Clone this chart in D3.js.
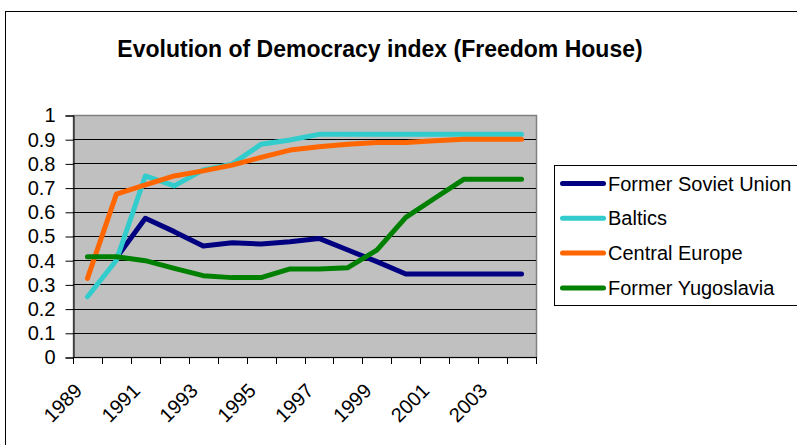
<!DOCTYPE html>
<html>
  <head>
    <meta charset="utf-8">
    <script src="https://d3js.org/d3.v7.min.js"></script>
    <style>
      body {
        margin: 0;
        background: white;
        font-family: "Liberation Sans", Arial, sans-serif;
      }
    </style>
  </head>
  <body>
    <script>
      // data
      var years = [1989, 1990, 1991, 1992, 1993, 1994, 1995, 1996, 1997, 1998, 1999, 2000, 2001, 2002, 2003, 2004]
      var yearLabels = [1989, 1991, 1993, 1995, 1997, 1999, 2001, 2003]
      var yTicks = [0, 0.1, 0.2, 0.3, 0.4, 0.5, 0.6, 0.7, 0.8, 0.9, 1]
      var seriesNames = ['Former Soviet Union', 'Baltics', 'Central Europe', 'Former Yugoslavia']
      var seriesColors = ['#000080', '#33cccc', '#ff6600', '#008000']
      var fsu = [null, 0.41, 0.573, 0.518, 0.459, 0.472, 0.467, 0.476, 0.49, 0.442, 0.394, 0.343, 0.343, 0.343, 0.343, 0.343]
      var baltics = [0.249, 0.40, 0.748, 0.707, 0.773, 0.797, 0.879, 0.897, 0.92, 0.92, 0.92, 0.92, 0.92, 0.92, 0.92, 0.92]
      var centralEurope = [0.325, 0.673, 0.711, 0.748, 0.769, 0.793, 0.825, 0.855, 0.869, 0.879, 0.886, 0.886, 0.894, 0.9, 0.9, 0.9]
      var yugoslavia = [0.414, 0.414, 0.398, 0.366, 0.336, 0.328, 0.328, 0.364, 0.364, 0.369, 0.442, 0.577, 0.656, 0.734, 0.734, 0.734]
      var allSeries = [fsu, baltics, centralEurope, yugoslavia]

      var W = 797, H = 445
      var plot = {left: 73, top: 115, right: 536, bottom: 357}
      var fontSize = '20px'

      var svg = d3.select('body').append('svg')
        .attr('width', W)
        .attr('height', H)

      // outer chart frame
      svg.append('rect')
        .attr('x', 5.5).attr('y', 11.5)
        .attr('width', W).attr('height', H)
        .attr('fill', 'white')
        .attr('stroke', '#000')
        .attr('stroke-width', 1)

      svg.append('text')
        .attr('x', 380)
        .attr('y', 57)
        .attr('text-anchor', 'middle')
        .style('font-size', '23px')
        .style('font-weight', 'bold')
        .text('Evolution of Democracy index (Freedom House)')

      var x = d3.scaleBand().domain(years).range([plot.left, plot.right]).padding(0)
      var y = d3.scaleLinear().domain([0, 1]).range([plot.bottom, plot.top])

      // plot area
      svg.append('rect')
        .attr('x', plot.left + 0.5).attr('y', plot.top + 0.5)
        .attr('width', plot.right - plot.left).attr('height', plot.bottom - plot.top)
        .attr('fill', '#c0c0c0')
        .attr('stroke', '#808080')
        .attr('stroke-width', 1.5)

      // gridlines
      svg.append('g').selectAll('line')
        .data(yTicks.slice(1, -1))
        .enter().append('line')
          .attr('x1', plot.left).attr('x2', plot.right)
          .attr('y1', function(d){ return Math.round(y(d)) + 0.5 })
          .attr('y2', function(d){ return Math.round(y(d)) + 0.5 })
          .attr('stroke', '#000')
          .attr('stroke-width', 1)

      // y axis
      var yAxis = svg.append('g')
        .attr('transform', 'translate(' + (plot.left + 0.5) + ',0.5)')
        .call(d3.axisLeft(y).tickValues(yTicks).tickSize(8).tickPadding(10)
          .tickFormat(function(d){ return d === 0 || d === 1 ? String(d) : d3.format('.1f')(d) }))
      yAxis.select('.domain').attr('stroke', '#000')
      yAxis.selectAll('line').attr('stroke', '#000')
      yAxis.selectAll('text')
        .style('font-size', fontSize)
        .style('font-family', '"Liberation Sans", Arial, sans-serif')
        .attr('fill', '#000')

      // x axis: ticks on category borders
      var xg = svg.append('g')
      xg.append('line')
        .attr('x1', plot.left).attr('x2', plot.right + 1)
        .attr('y1', plot.bottom + 0.5).attr('y2', plot.bottom + 0.5)
        .attr('stroke', '#000')
      var borders = years.map(function(d){ return x(d) }).concat([plot.right])
      xg.selectAll('.xtick')
        .data(borders)
        .enter().append('line')
          .attr('class', 'xtick')
          .attr('x1', function(d){ return Math.round(d) + 0.5 })
          .attr('x2', function(d){ return Math.round(d) + 0.5 })
          .attr('y1', plot.bottom)
          .attr('y2', plot.bottom + 7)
          .attr('stroke', '#000')
      xg.selectAll('.xlabel')
        .data(yearLabels)
        .enter().append('text')
          .attr('class', 'xlabel')
          .attr('text-anchor', 'end')
          .attr('transform', function(d){
            return 'translate(' + (x(d) + x.bandwidth() / 2 - 4) + ',' + 392 + ') rotate(-45)'
          })
          .style('font-size', fontSize)
          .text(function(d){ return d })

      // lines
      var line = d3.line()
        .defined(function(d){ return d != null })
        .x(function(d, i){ return x(years[i]) + x.bandwidth() / 2 })
        .y(function(d){ return y(d) })

      svg.append('g').selectAll('path')
        .data(allSeries)
        .enter().append('path')
          .attr('d', line)
          .attr('fill', 'none')
          .attr('stroke', function(d, i){ return seriesColors[i] })
          .attr('stroke-width', 5)
          .attr('stroke-linejoin', 'round')
          .attr('stroke-linecap', 'round')

      // legend
      var lg = svg.append('g').attr('transform', 'translate(554.5,165.5)')
      lg.append('rect')
        .attr('width', 260).attr('height', 140)
        .attr('fill', 'white')
        .attr('stroke', '#000')
        .attr('stroke-width', 1)
      var items = lg.selectAll('.item')
        .data(seriesNames)
        .enter().append('g')
          .attr('transform', function(d, i){ return 'translate(0,' + (18 + i * 34.8) + ')' })
      items.append('line')
        .attr('x1', 8).attr('x2', 49)
        .attr('stroke', function(d, i){ return seriesColors[i] })
        .attr('stroke-width', 5)
        .attr('stroke-linecap', 'round')
      items.append('text')
        .attr('x', 53.5)
        .attr('y', 7)
        .style('font-size', fontSize)
        .text(function(d){ return d })
    </script>
  </body>
</html>
